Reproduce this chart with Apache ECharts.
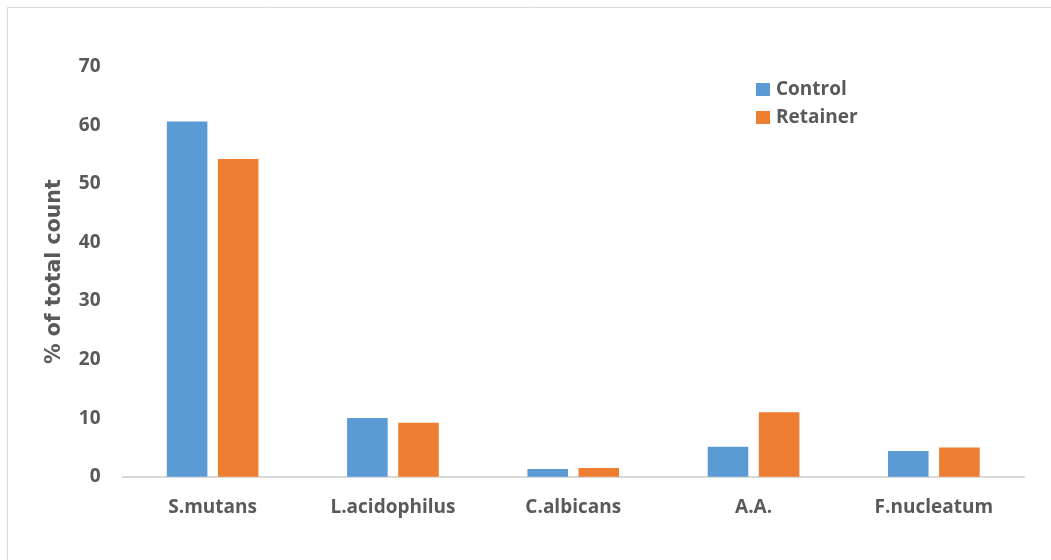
<!DOCTYPE html>
<html>
<head>
<meta charset="utf-8">
<script src="https://cdn.jsdelivr.net/npm/echarts@6/dist/echarts.min.js"></script>
<style>html,body{margin:0;padding:0;background:#fff;}#c{width:1051px;height:560px;}</style>
</head>
<body>
<div id="c"></div>
<script>
const categories = ['S.mutans', 'L.acidophilus', 'C.albicans', 'A.A.', 'F.nucleatum'];
const controlValues = [60.6, 10.0, 1.3, 5.1, 4.4];
const retainerValues = [54.2, 9.2, 1.5, 11.0, 5.0];
const seriesNames = ['Control', 'Retainer'];
const yTicks = { min: 0, max: 70, interval: 10 };

const chart = echarts.init(document.getElementById('c'));
const labelFont = { fontFamily: 'Open Sans', fontWeight: 'bold', fontSize: 19, color: '#595959' };
chart.setOption({
  animation: false,
  backgroundColor: '#fff',
  color: ['#5b9bd5', '#ed7d31'],
  graphic: [{
    type: 'rect', shape: { x: 7.5, y: 7.5, width: 1100, height: 600 },
    style: { fill: 'none', stroke: '#d9d9d9', lineWidth: 1 }, silent: true
  }],
  grid: { left: 122.5, right: 27, top: 66.5, bottom: 83.3, containLabel: false },
  legend: {
    data: seriesNames, orient: 'vertical', left: 751, top: 75,
    itemWidth: 14, itemHeight: 13, itemGap: 9, icon: 'rect',
    textStyle: Object.assign({}, labelFont, { padding: [0, 0, 0, 1] })
  },
  xAxis: {
    type: 'category', data: categories,
    axisLine: { lineStyle: { color: '#d9d9d9', width: 2 } },
    axisTick: { show: false },
    axisLabel: Object.assign({ margin: 21 }, labelFont)
  },
  yAxis: {
    type: 'value', min: yTicks.min, max: yTicks.max, interval: yTicks.interval,
    name: '% of total count', nameLocation: 'middle', nameGap: 57,
    nameTextStyle: { fontFamily: 'DejaVu Sans', fontWeight: 'bold', fontSize: 20.5, color: '#595959' },
    axisLine: { show: false }, axisTick: { show: false },
    splitLine: { show: false },
    axisLabel: Object.assign({ margin: 22 }, labelFont)
  },
  series: [
    { name: seriesNames[0], type: 'bar', data: controlValues, barWidth: '22.5%', barGap: '26%' },
    { name: seriesNames[1], type: 'bar', data: retainerValues, barWidth: '22.5%', barGap: '26%' }
  ]
});
</script>
</body>
</html>
